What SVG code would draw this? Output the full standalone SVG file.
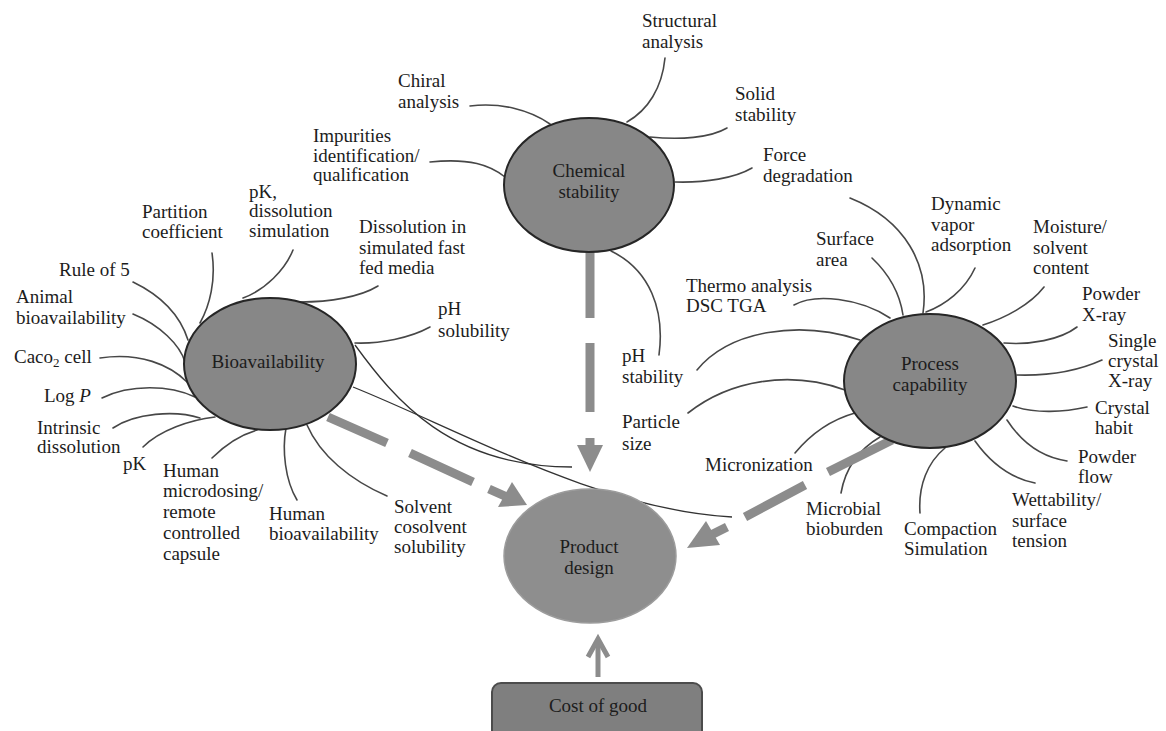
<svg xmlns="http://www.w3.org/2000/svg" width="1166" height="731" viewBox="0 0 1166 731">
  <style>
    text { font-family: "Liberation Serif", "Times New Roman", serif; font-size: 19px; fill: #1c1c1c; }
    .mid { text-anchor: middle; }
    .hub { fill: #878787; stroke: #262626; stroke-width: 2; }
    .target { fill: #8e8e8e; stroke: #9c9c9c; stroke-width: 1.5; }
    .leg { fill: none; stroke: #474747; stroke-width: 1.6; stroke-linecap: round; }
    .thin { fill: none; stroke: #333; stroke-width: 1.3; }
    .dash { fill: none; stroke: #8c8c8c; stroke-width: 9; stroke-linecap: butt; }
    .head { fill: #8c8c8c; stroke: none; }
  </style>

  <rect x="0" y="0" width="1166" height="731" fill="#ffffff"/>

  <!-- leader lines and flow arrows -->
  <g id="connectors">
    <!-- Chemical stability legs -->
    <path class="leg" d="M665,58 C662,88 648,110 627,122"/>
    <path class="leg" d="M470,106 C500,102 530,110 550,124"/>
    <path class="leg" d="M430,162 C470,158 490,165 505,177"/>
    <path class="leg" d="M727,128 C710,138 680,140 650,137"/>
    <path class="leg" d="M752,168 C735,178 705,183 675,182"/>
    <path class="leg" d="M611,251 C650,270 665,310 659,355"/>

    <!-- Bioavailability legs -->
    <path class="leg" d="M212,253 C216,280 210,305 200,323"/>
    <path class="leg" d="M293,250 C285,270 265,290 243,298"/>
    <path class="leg" d="M378,286 C360,297 330,302 300,302"/>
    <path class="leg" d="M430,327 C410,338 380,344 355,343"/>
    <path class="leg" d="M133,282 C160,295 180,315 188,340"/>
    <path class="leg" d="M133,314 C160,325 180,345 185,362"/>
    <path class="leg" d="M100,358 C140,352 170,365 187,382"/>
    <path class="leg" d="M102,398 C130,384 170,385 195,397"/>
    <path class="leg" d="M113,428 C135,413 175,410 200,418"/>
    <path class="leg" d="M143,447 C160,430 190,420 215,417"/>
    <path class="leg" d="M212,458 C225,445 240,435 257,430"/>
    <path class="leg" d="M297,500 C285,480 282,450 286,428"/>
    <path class="leg" d="M387,496 C350,480 320,455 307,425"/>
    <path class="thin" d="M355,345 C395,400 450,467 572,467"/>
    <path class="thin" d="M353,387 C460,430 600,510 732,517"/>

    <!-- Process capability legs -->
    <path class="leg" d="M850,198 C905,220 930,265 923,313"/>
    <path class="leg" d="M975,268 C965,290 945,305 926,312"/>
    <path class="leg" d="M872,258 C890,275 900,295 903,315"/>
    <path class="leg" d="M794,305 C815,293 860,298 890,318"/>
    <path class="leg" d="M1044,287 C1030,305 1005,318 983,325"/>
    <path class="leg" d="M1077,327 C1060,340 1030,345 1004,343"/>
    <path class="leg" d="M1102,360 C1080,370 1050,376 1017,375"/>
    <path class="leg" d="M1087,407 C1065,412 1035,414 1013,406"/>
    <path class="leg" d="M1007,420 C1020,440 1040,457 1067,461"/>
    <path class="leg" d="M975,441 C990,462 1010,478 1035,483"/>
    <path class="leg" d="M920,513 C918,485 928,462 945,448"/>
    <path class="leg" d="M841,493 C845,470 858,450 880,437"/>
    <path class="leg" d="M795,453 C810,435 830,420 855,413"/>
    <path class="leg" d="M688,413 C730,380 790,370 845,390"/>
    <path class="leg" d="M697,370 C730,330 800,320 860,340"/>

    <!-- Chemical stability to Product design -->
    <path class="dash" d="M590,252 V318 M590,343 V412 M590,438 V446"/>
    <polygon class="head" points="577,445 603,445 590,472"/>

    <!-- Bioavailability to Product design -->
    <path class="dash" d="M328,417 L387,443 M410,453 L473,482 M489,489 L507,497"/>
    <polygon class="head" points="512,482 498,507 527,505"/>

    <!-- Process capability to Product design -->
    <path class="dash" d="M892,440 L828,472 M805,485 L745,517 M727,527 L711,535"/>
    <polygon class="head" points="706,521 720,545 687,548"/>

    <!-- Cost of good to Product design -->
    <path d="M598,677 V640" fill="none" stroke="#8c8c8c" stroke-width="5"/>
    <path d="M588,657 L598,639 L608,657" fill="none" stroke="#8c8c8c" stroke-width="5" stroke-linejoin="miter"/>
  </g>

  <!-- hubs -->
  <g id="chemical-stability">
    <ellipse class="hub" cx="589" cy="185" rx="85" ry="67"/>
    <text class="mid" x="589" y="177">Chemical</text>
    <text class="mid" x="589" y="198">stability</text>
  </g>
  <g id="bioavailability">
    <ellipse class="hub" cx="270" cy="364" rx="86" ry="66"/>
    <text class="mid" x="268" y="368">Bioavailability</text>
  </g>
  <g id="process-capability">
    <ellipse class="hub" cx="930" cy="381" rx="86" ry="67"/>
    <text class="mid" x="930" y="370">Process</text>
    <text class="mid" x="930" y="391">capability</text>
  </g>
  <g id="product-design">
    <ellipse class="target" cx="590" cy="556" rx="86" ry="67"/>
    <text class="mid" x="589" y="553">Product</text>
    <text class="mid" x="589" y="574">design</text>
  </g>
  <g id="cost-of-good">
    <rect x="492" y="683" width="210" height="60" rx="9" fill="#7f7f7f" stroke="#4c4c4c" stroke-width="2"/>
    <text class="mid" x="598" y="712">Cost of good</text>
  </g>

  <!-- chemical stability labels -->
  <g id="structural-analysis"><text x="642" y="27">Structural</text><text x="642" y="48">analysis</text></g>
  <g id="chiral-analysis"><text x="398" y="87">Chiral</text><text x="398" y="108">analysis</text></g>
  <g id="impurities"><text x="313" y="142">Impurities</text><text x="313" y="162">identification/</text><text x="313" y="181">qualification</text></g>
  <g id="solid-stability"><text x="735" y="100">Solid</text><text x="735" y="121">stability</text></g>
  <g id="force-degradation"><text x="763" y="161">Force</text><text x="763" y="182">degradation</text></g>
  <g id="ph-stability"><text x="622" y="362">pH</text><text x="622" y="383">stability</text></g>

  <!-- bioavailability labels -->
  <g id="partition-coefficient"><text x="142" y="218">Partition</text><text x="142" y="238">coefficient</text></g>
  <g id="pk-dissolution-simulation"><text x="249" y="198">pK,</text><text x="249" y="217">dissolution</text><text x="249" y="237">simulation</text></g>
  <g id="dissolution-fed-media"><text x="359" y="233">Dissolution in</text><text x="359" y="254">simulated fast</text><text x="359" y="274">fed media</text></g>
  <g id="ph-solubility"><text x="438" y="315">pH</text><text x="438" y="337">solubility</text></g>
  <g id="rule-of-5"><text x="59" y="276">Rule of 5</text></g>
  <g id="animal-bioavailability"><text x="16" y="303">Animal</text><text x="16" y="324">bioavailability</text></g>
  <g id="caco2-cell"><text x="14" y="363">Caco<tspan font-size="13" dy="4">2</tspan><tspan dy="-4"> cell</tspan></text></g>
  <g id="log-p"><text x="44" y="402">Log <tspan font-style="italic">P</tspan></text></g>
  <g id="intrinsic-dissolution"><text x="37" y="434">Intrinsic</text><text x="37" y="453">dissolution</text></g>
  <g id="pk"><text x="123" y="470">pK</text></g>
  <g id="human-microdosing"><text x="163" y="477">Human</text><text x="163" y="497">microdosing/</text><text x="163" y="518">remote</text><text x="163" y="539">controlled</text><text x="163" y="560">capsule</text></g>
  <g id="human-bioavailability"><text x="269" y="520">Human</text><text x="269" y="540">bioavailability</text></g>
  <g id="solvent-solubility"><text x="394" y="513">Solvent</text><text x="394" y="533">cosolvent</text><text x="394" y="553">solubility</text></g>

  <!-- process capability labels -->
  <g id="particle-size"><text x="622" y="428">Particle</text><text x="622" y="450">size</text></g>
  <g id="thermo-analysis"><text x="686" y="292">Thermo analysis</text><text x="686" y="312">DSC TGA</text></g>
  <g id="surface-area"><text x="816" y="245">Surface</text><text x="816" y="266">area</text></g>
  <g id="dynamic-vapor-adsorption"><text x="931" y="210">Dynamic</text><text x="931" y="231">vapor</text><text x="931" y="251">adsorption</text></g>
  <g id="moisture-content"><text x="1033" y="233">Moisture/</text><text x="1033" y="254">solvent</text><text x="1033" y="274">content</text></g>
  <g id="powder-xray"><text x="1082" y="300">Powder</text><text x="1082" y="321">X-ray</text></g>
  <g id="single-crystal-xray"><text x="1108" y="347">Single</text><text x="1108" y="367">crystal</text><text x="1108" y="387">X-ray</text></g>
  <g id="crystal-habit"><text x="1095" y="414">Crystal</text><text x="1095" y="434">habit</text></g>
  <g id="powder-flow"><text x="1078" y="463">Powder</text><text x="1078" y="483">flow</text></g>
  <g id="wettability"><text x="1012" y="506">Wettability/</text><text x="1012" y="527">surface</text><text x="1012" y="547">tension</text></g>
  <g id="compaction-simulation"><text x="904" y="535">Compaction</text><text x="904" y="555">Simulation</text></g>
  <g id="microbial-bioburden"><text x="806" y="515">Microbial</text><text x="806" y="535">bioburden</text></g>
  <g id="micronization"><text x="705" y="471">Micronization</text></g>
</svg>
